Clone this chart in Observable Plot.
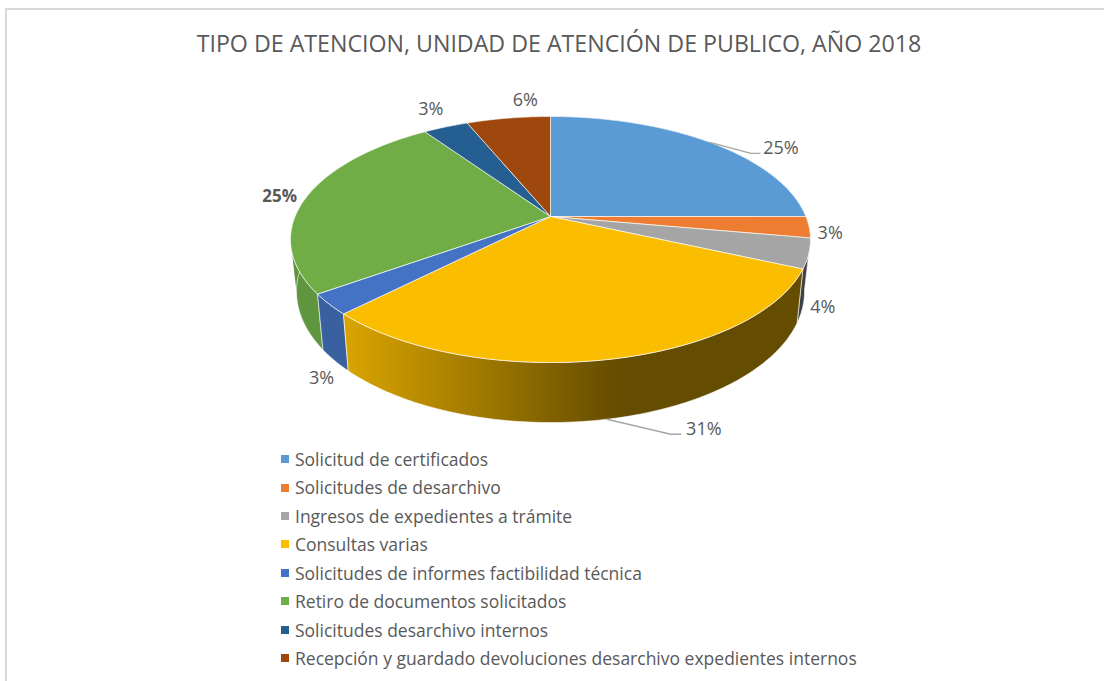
<!DOCTYPE html>
<html lang="es">
<head>
<meta charset="utf-8">
<script src="https://cdn.jsdelivr.net/npm/d3@7"></script>
<script src="https://cdn.jsdelivr.net/npm/@observablehq/plot@0.6"></script>
<style>
  html, body { margin: 0; padding: 0; background: #fff; overflow: hidden; }
  #page { position: relative; width: 1104px; height: 681px; overflow: hidden; font-family: "Open Sans", sans-serif; color: #595959; }
  #page::before { content: ""; position: absolute; left: 5px; top: 8px; right: 0; bottom: 0; border-left: 2px solid #d9d9d9; border-top: 2px solid #d9d9d9; }
  #title { position: relative; height: 80px; width: 1118px; box-sizing: border-box; padding-top: 28px; text-align: center; font-size: 23.2px; line-height: 30px; }
  #chart { position: relative; height: 360px; }
  #chart svg { display: block; }
  #legend { position: relative; margin: 5px 0 0 281px; padding: 0; list-style: none; font-size: 17.5px; }
  #legend li { height: 28.43px; line-height: 28.43px; white-space: nowrap; display: flex; align-items: center; }
  #legend i { width: 8px; height: 8px; margin-right: 6px; flex: none; }
</style>
</head>
<body>
<div id="page">
  <div id="title"></div>
  <div id="chart"></div>
  <ul id="legend"></ul>
</div>
<script>
const chartTitle = "TIPO DE ATENCION, UNIDAD DE ATENCIÓN DE PUBLICO, AÑO 2018";
const categories = [
  "Solicitud de certificados",
  "Solicitudes de desarchivo",
  "Ingresos de expedientes a trámite",
  "Consultas varias",
  "Solicitudes de informes factibilidad técnica",
  "Retiro de documentos solicitados",
  "Solicitudes desarchivo internos",
  "Recepción y guardado devoluciones desarchivo expedientes internos"
];
const shares = [25.0, 2.8, 3.9, 30.7, 2.7, 25.3, 3.35, 6.25];
const colors = ["#5B9BD5", "#ED7D31", "#A5A5A5", "#FBBD00", "#4472C4", "#70AD47", "#255E91", "#9E480E"];
const wallFills = ["#4a80b0", "#b8601f", "#3f3f3f", "url(#wallYellow)", "#39619f", "#5f953e", "#1d4a72", "#7a370a"];
const wallOrder = [0, 1, 7, 6, 5, 2, 4, 3];

// label placement, as an offset from the rim midpoint of each slice
const labelNudges = [[71, 6], [21, 6], [14, 54], [97, 10], [-13, 18], [-27, 0], [-15, -18], [17, -18]];
const labelOnBottomRim = [false, false, false, true, true, false, false, false];
// leader elbows for the two labels that have one, relative to the same midpoint
const leaderElbows = {0: [[41, 11], [50, 11]], 3: [[64, 15], [74, 15]]};

// perspective disc
const A = 255.4, B = 118.7, K = 0.187;
const wallScaleX = 0.977, wallScaleY = 1.064, wallDrop = 50.7;
const leftTangent = 0.72;
const project = (turn) => {
  const a = turn * 2 * Math.PI, u = Math.sin(a), v = Math.cos(a), d = 1 + K * v;
  return {x: A * u / d, y: B * v / d};
};
const lower = (p) => ({x: p.x * wallScaleX, y: p.y * wallScaleY - wallDrop});
const arc = (t0, t1) => {
  const n = Math.max(2, Math.ceil((t1 - t0) * 360));
  return d3.range(n + 1).map(i => project(t0 + (t1 - t0) * i / n));
};

const total = d3.sum(shares);
const cum = d3.cumsum(shares).map(d => d / total);
const slices = shares.map((s, i) => ({
  name: categories[i], share: s, i,
  t0: i ? cum[i - 1] : 0, t1: cum[i], mid: (i ? cum[i - 1] : 0) / 2 + cum[i] / 2
}));

const apex = {x: 0, y: 0};
const wallMarks = wallOrder.map(i => {
  const s = slices[i], top = arc(s.t0, s.t1);
  const pts = [...top, ...top.slice().reverse().map(lower)];
  pts.push(pts[0]);
  return Plot.line(pts, {x: "x", y: "y", fill: wallFills[i], stroke: "#ffffff", strokeOpacity: 0.6, strokeWidth: 1});
});
// the straight silhouette where the wall of the slice at the left extreme turns out of sight
const greenSlice = slices.find(s => s.t0 < leftTangent && s.t1 > leftTangent);
const silhouette = (() => {
  const a = project(leftTangent), b = project(greenSlice.t0);
  return Plot.line([a, lower(a), lower(b), b, a], {x: "x", y: "y", fill: wallFills[greenSlice.i], stroke: "none"});
})();
const topMarks = slices.map(s => {
  const pts = [apex, ...arc(s.t0, s.t1), apex];
  return Plot.line(pts, {x: "x", y: "y", fill: colors[s.i], stroke: "#ffffff", strokeOpacity: 0.65, strokeWidth: 1});
});

const labels = slices.map(s => {
  const rim = project(s.mid);
  const base = labelOnBottomRim[s.i] ? lower(rim) : rim;
  const [dx, dy] = labelNudges[s.i];
  return {base, x: base.x + dx, y: base.y - dy, text: `${Math.round(s.share)}%`, bold: s.i === 5, i: s.i};
});
const leaderMarks = Object.entries(leaderElbows).map(([i, elbows]) => {
  const base = labels[+i].base;
  return Plot.line([base, ...elbows.map(([dx, dy]) => ({x: base.x + dx, y: base.y - dy}))],
    {x: "x", y: "y", stroke: "#a6a6a6", strokeWidth: 1.4, curve: "linear"});
});

const defs = () => {
  const g = d3.create("svg:g");
  const grad = g.append("defs").append("linearGradient").attr("id", "wallYellow");
  grad.append("stop").attr("offset", "0%").attr("stop-color", "#DAA500");
  grad.append("stop").attr("offset", "60%").attr("stop-color", "#644C00");
  grad.append("stop").attr("offset", "100%").attr("stop-color", "#644C00");
  return g.node();
};

const chart = Plot.plot({
  width: 1104, height: 360,
  margin: 0,
  x: {domain: [-550, 554], range: [0, 1104], axis: null},
  y: {domain: [136, -224], range: [0, 360], axis: null},
  style: {fontFamily: '"Open Sans", sans-serif', background: "transparent", overflow: "visible"},
  marks: [
    defs,
    silhouette,
    ...wallMarks,
    ...topMarks,
    ...leaderMarks,
    Plot.text(labels.filter(d => !d.bold), {x: "x", y: "y", text: "text", fontSize: 18, fill: "#595959"}),
    Plot.text(labels.filter(d => d.bold), {x: "x", y: "y", text: "text", fontSize: 17, fontWeight: "bold", fill: "#595959"})
  ]
});
document.getElementById("chart").append(chart);
document.getElementById("title").textContent = chartTitle;

const legend = d3.select("#legend").selectAll("li").data(categories).join("li");
legend.append("i").style("background", (d, i) => colors[i]);
legend.append("span").text(d => d);
</script>
</body>
</html>
